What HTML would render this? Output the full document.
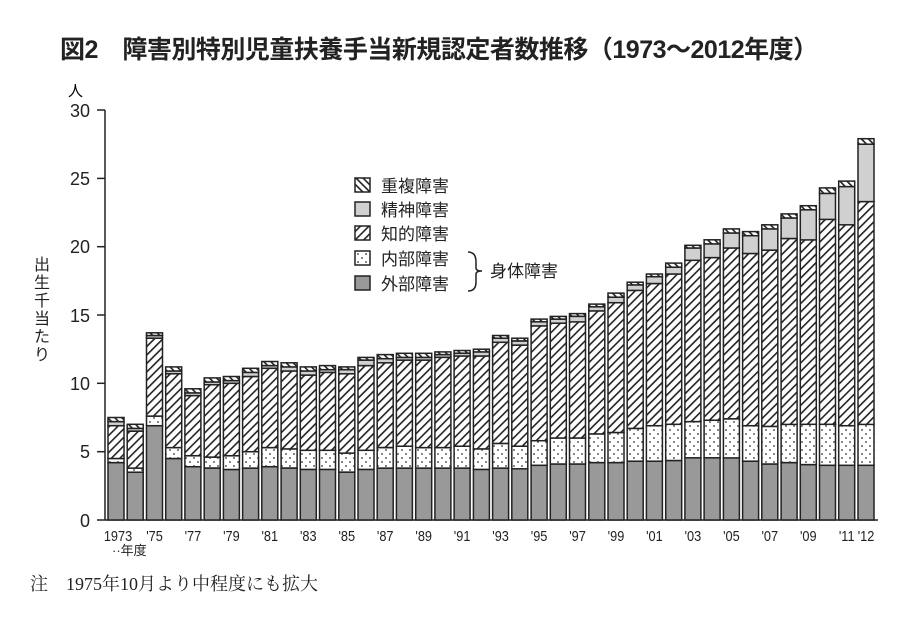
<!DOCTYPE html>
<html><head><meta charset="utf-8"><style>
body{margin:0;background:#fff;}
svg{display:block;font-family:"Liberation Sans","Noto Sans CJK JP",sans-serif;}
</style></head><body>
<svg id="s" width="900" height="620" viewBox="0 0 900 620" xmlns="http://www.w3.org/2000/svg">
<defs>
<pattern id="hat" width="6" height="6" patternUnits="userSpaceOnUse" patternTransform="rotate(45)">
<rect width="6" height="6" fill="#fff"/><rect x="0" y="0" width="1.6" height="6" fill="#222"/></pattern>
<pattern id="bhat" width="5" height="5" patternUnits="userSpaceOnUse" patternTransform="rotate(-45)">
<rect width="5" height="5" fill="#fff"/><rect x="0" y="0" width="1.6" height="5" fill="#222"/></pattern>
<pattern id="dot" width="8" height="8" patternUnits="userSpaceOnUse">
<rect width="8" height="8" fill="#fff"/><circle cx="2" cy="2" r="0.9" fill="#333"/><circle cx="6" cy="6" r="0.9" fill="#333"/></pattern>
</defs>
<text x="60" y="58" font-size="25" font-weight="600" fill="#222" letter-spacing="-0.5">図2　障害別特別児童扶養手当新規認定者数推移（1973～2012年度）</text>
<text x="68" y="96" font-size="15">人</text>
<g font-size="18" fill="#222" text-anchor="end">
<text x="90" y="117">30</text><text x="90" y="185">25</text><text x="90" y="253">20</text>
<text x="90" y="322">15</text><text x="90" y="390">10</text><text x="90" y="458">5</text><text x="90" y="527">0</text>
</g>
<g stroke="#222" stroke-width="1.5">
<line x1="105" y1="110" x2="105" y2="520"/>
<line x1="97" y1="110" x2="105" y2="110"/><line x1="97" y1="178.4" x2="105" y2="178.4"/>
<line x1="97" y1="246.7" x2="105" y2="246.7"/><line x1="97" y1="315" x2="105" y2="315"/>
<line x1="97" y1="383.3" x2="105" y2="383.3"/><line x1="97" y1="451.7" x2="105" y2="451.7"/>
<line x1="97" y1="520" x2="878" y2="520"/>
</g>
<g font-size="16" fill="#222">
<text x="34" y="270">出</text><text x="34" y="288">生</text><text x="34" y="306">千</text><text x="34" y="324">当</text><text x="34" y="342">た</text><text x="34" y="360">り</text>
</g>
<g id="bars"></g>
<g id="xl" font-size="15" fill="#222" text-anchor="middle"></g>
<text x="112" y="555" font-size="13" fill="#222">··年度</text>
<g font-size="17" fill="#222">
<rect x="355" y="178" width="15" height="14" fill="url(#bhat)" stroke="#222" stroke-width="1.5"/><text x="381" y="192">重複障害</text>
<rect x="355" y="202" width="15" height="14" fill="#d0d0d0" stroke="#222" stroke-width="1.5"/><text x="381" y="216">精神障害</text>
<rect x="355" y="226" width="15" height="14" fill="url(#hat)" stroke="#222" stroke-width="1.5"/><text x="381" y="240">知的障害</text>
<rect x="355" y="251" width="15" height="14" fill="url(#dot)" stroke="#222" stroke-width="1.5"/><text x="381" y="265">内部障害</text>
<rect x="355" y="276" width="15" height="14" fill="#999" stroke="#222" stroke-width="1.5"/><text x="381" y="290">外部障害</text>
<path d="M468 252 Q476 252 476 262 L476 268 Q476 271 482 271 Q476 271 476 274 L476 282 Q476 291 468 291" fill="none" stroke="#222" stroke-width="1.5"/>
<text x="490" y="277">身体障害</text>
</g>
<text x="30" y="590" font-size="18" fill="#222" font-family="Liberation Serif,'Noto Serif CJK SC',serif">注　1975年10月より中程度にも拡大</text>
</svg>
<script>
var d=[[4.2,4.5,6.9,7.2,7.5],[3.5,3.8,6.5,6.7,7.0],[6.9,7.6,13.3,13.5,13.7],[4.5,5.3,10.7,10.9,11.2],[3.9,4.7,9.1,9.3,9.6],[3.8,4.6,9.9,10.1,10.4],[3.7,4.7,10.0,10.2,10.5],[3.8,5.0,10.5,10.8,11.1],[3.9,5.3,11.1,11.3,11.6],[3.8,5.2,10.9,11.2,11.5],[3.7,5.1,10.6,10.9,11.2],[3.7,5.1,10.8,11.0,11.3],[3.5,4.9,10.7,11.0,11.2],[3.7,5.1,11.3,11.7,11.9],[3.8,5.3,11.5,11.8,12.1],[3.8,5.4,11.7,11.9,12.2],[3.8,5.3,11.7,11.9,12.2],[3.8,5.3,11.9,12.1,12.3],[3.8,5.4,12.0,12.2,12.4],[3.7,5.2,12.0,12.3,12.5],[3.8,5.6,13.0,13.3,13.5],[3.75,5.4,12.8,13.1,13.3],[4.0,5.8,14.2,14.5,14.7],[4.1,6.0,14.4,14.7,14.9],[4.1,6.0,14.5,14.9,15.1],[4.2,6.3,15.3,15.6,15.8],[4.2,6.4,15.9,16.3,16.6],[4.3,6.7,16.8,17.2,17.4],[4.3,6.9,17.3,17.8,18.0],[4.35,7.0,18.0,18.5,18.8],[4.55,7.2,19.0,19.9,20.1],[4.55,7.3,19.2,20.2,20.5],[4.55,7.4,19.9,21.0,21.3],[4.3,6.9,19.5,20.8,21.1],[4.1,6.85,19.75,21.3,21.6],[4.2,7.0,20.6,22.1,22.4],[4.05,7.0,20.5,22.7,23.0],[4.0,7.0,22.0,23.9,24.3],[4.0,6.9,21.6,24.4,24.8],[4.0,7.0,23.3,27.5,27.9]];
var fills=["#999","url(#dot)","url(#hat)","#d0d0d0","url(#bhat)"];
var g=document.getElementById("bars"),h="";
function Y(v){return 520-v*13.667;}
d.forEach(function(r,i){var cx=116+i*19.23,x=cx-8,prev=0;
 r.forEach(function(v,k){var y0=Y(prev),y1=Y(v);if(y0-y1>0.3)h+='<rect x="'+x.toFixed(1)+'" y="'+y1.toFixed(1)+'" width="16" height="'+(y0-y1).toFixed(1)+'" fill="'+fills[k]+'" stroke="#222" stroke-width="1.5"/>';prev=v;});});
g.innerHTML=h;
var labs={0:"1973",2:"'75",4:"'77",6:"'79",8:"'81",10:"'83",12:"'85",14:"'87",16:"'89",18:"'91",20:"'93",22:"'95",24:"'97",26:"'99",28:"'01",30:"'03",32:"'05",34:"'07",36:"'09",38:"'11",39:"'12"};
var t="";for(var k in labs){var cx=116+k*19.23;if(k==0)cx=118;t+='<text x="'+cx.toFixed(1)+'" y="541" transform="translate('+cx.toFixed(1)+' 0) scale(0.85 1) translate('+(-cx).toFixed(1)+' 0)">'+labs[k]+'</text>';}
document.getElementById("xl").innerHTML=t;
</script>
</body></html>
